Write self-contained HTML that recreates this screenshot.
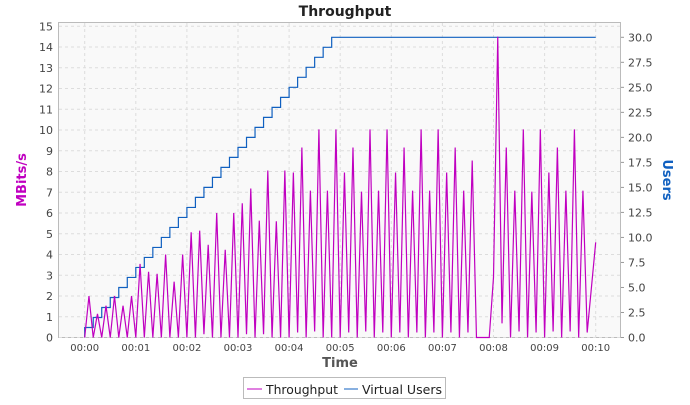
<!DOCTYPE html>
<html><head><meta charset="utf-8"><style>
body{margin:0;background:#fff;font-family:"Liberation Sans","DejaVu Sans",sans-serif;}
svg text{font-family:"DejaVu Sans","Liberation Sans",sans-serif;}
</style></head><body>
<svg id="chart" width="690" height="400" xmlns="http://www.w3.org/2000/svg">
<text x="345" y="16" text-anchor="middle" font-size="14" font-weight="bold" fill="#222">Throughput</text>
<rect x="58.5" y="22.5" width="562" height="315" fill="#f9f9f9" stroke="#bbb"/>
<g id="grid"></g>
<g id="axes"></g>
<g id="series"></g>
<text x="340" y="367" text-anchor="middle" font-size="13" font-weight="bold" fill="#555">Time</text>
<text transform="translate(26,180) rotate(-90)" text-anchor="middle" font-size="13" font-weight="bold" fill="#c000c0">MBits/s</text>
<text transform="translate(663,180) rotate(90)" text-anchor="middle" font-size="13" font-weight="bold" fill="#1060c0">Users</text>
<g>
<rect x="243.5" y="377.5" width="202" height="21" fill="#fff" stroke="#bbb"/>
<g><line x1="247" y1="389" x2="262" y2="389" stroke="#c000c0"/><text x="266" y="394" font-size="12.5" fill="#222" textLength="72" lengthAdjust="spacingAndGlyphs">Throughput</text></g>
<g><line x1="344" y1="389" x2="358" y2="389" stroke="#1060c0"/><text x="362" y="394" font-size="12.5" fill="#222" textLength="80" lengthAdjust="spacingAndGlyphs">Virtual Users</text></g>
</g>
</svg>
<script>
const xTickLabels=["00:00","00:01","00:02","00:03","00:04","00:05","00:06","00:07","00:08","00:09","00:10"];
const leftTicks=[0,1,2,3,4,5,6,7,8,9,10,11,12,13,14,15];
const rightTicks=[0,2.5,5,7.5,10,12.5,15,17.5,20,22.5,25,27.5,30];
const tpTimes=[0,5,10,15,20,25,30,35,40,45,50,55,60,65,70,75,80,85,90,95,100,105,110,115,120,125,130,135,140,145,150,155,160,165,170,175,180,185,190,195,200,205,210,215,220,225,230,235,240,245,250,255,260,265,270,275,280,285,290,295,300,305,310,315,320,325,330,335,340,345,350,355,360,365,370,375,380,385,390,395,400,405,410,415,420,425,430,435,440,445,450,455,460,465,470,475,480,485,490,495,500,505,510,515,520,525,530,535,540,545,550,555,560,565,570,575,580,585,590,600];
const tpValues=[0,2.0,0,1.14,0,1.53,0,2.0,0,1.53,0,2.0,0,3.55,0,3.17,0,3.07,0,4.0,0,2.69,0,4.0,0,5.07,0,5.15,0.16,4.47,0,6.0,0,4.23,0,6.0,0,6.47,0.16,7.18,0,5.63,0.16,8.05,0,5.6,0,8.05,0,7.95,0.24,9.16,0,7.08,0.29,10.03,0,7.08,0,10.03,0,7.95,0.24,9.16,0,7.03,0.29,10.03,0,7.08,0.24,10.03,0,7.95,0.24,9.16,0,7.08,0.24,10.03,0,7.08,0.24,10.03,0,7.95,0.24,9.16,0,7.08,0.24,8.53,0,0,0,0,2.9,14.5,0.68,9.16,0,7.08,0.29,10.03,0,7.03,0.24,10.03,0,7.95,0.29,9.16,0,7.08,0.29,10.03,0,7.08,0.24,4.59];
const userTimes=[0,10,20,30,40,50,60,70,80,90,100,110,120,130,140,150,160,170,180,190,200,210,220,230,240,250,260,270,280,290,600];
const userValues=[1,2,3,4,5,6,7,8,9,10,11,12,13,14,15,16,17,18,19,20,21,22,23,24,25,26,27,28,29,30,30];

const NS="http://www.w3.org/2000/svg";
const X0=84.7,PXS=51.1/60;
const xs=t=>X0+t*PXS;
const yL=v=>337.5-v*(311.2/15);
const yR=v=>337.5-v*(300.2/30);
function mk(tag,attrs,parent){const e=document.createElementNS(NS,tag);for(const k in attrs)e.setAttribute(k,attrs[k]);parent.appendChild(e);return e;}
const grid=document.getElementById('grid'),axes=document.getElementById('axes'),series=document.getElementById('series');
xTickLabels.forEach((lab,i)=>{
  const x=xs(i*60);
  const g=mk('line',{x1:x,y1:23,x2:x,y2:337,stroke:'#ddd','stroke-dasharray':'3,3'},grid);
  
  
  const t=mk('text',{x:x,y:351,'text-anchor':'middle','font-size':'10',fill:'#444'},axes);
  t.textContent=lab;
  
  
});
leftTicks.forEach(v=>{
  const y=yL(v);
  const g=mk('line',{x1:59,y1:y,x2:620,y2:y,stroke:'#ddd','stroke-dasharray':'3,3'},grid);
  
  
  const t=mk('text',{x:53,y:y+4,'text-anchor':'end','font-size':'11',fill:'#444'},axes);
  t.textContent=v;
  
  
});
rightTicks.forEach(v=>{
  const y=yR(v);
  const m=mk('line',{x1:621,y1:y,x2:624,y2:y,stroke:'#999'},axes);
  
  
  const t=mk('text',{x:628,y:y+4,'font-size':'11',fill:'#444'},axes);
  t.textContent=v.toFixed(1);
  
  
});
let d='';
userTimes.forEach((t,i)=>{
  const x=xs(t),y=yR(userValues[i]);
  if(i===0)d+='M'+x+','+yR(0)+'L'+x+','+y;
  else d+='L'+x+','+yR(userValues[i-1])+'L'+x+','+y;
});
const up=mk('path',{d:d,fill:'none',stroke:'#1060c0','stroke-width':'1.2'},series);


const tp=mk('polyline',{points:tpTimes.map((t,i)=>xs(t)+','+yL(tpValues[i])).join(' '),fill:'none',stroke:'#c000c0','stroke-width':'1.2'},series);


</script>
</body></html>
